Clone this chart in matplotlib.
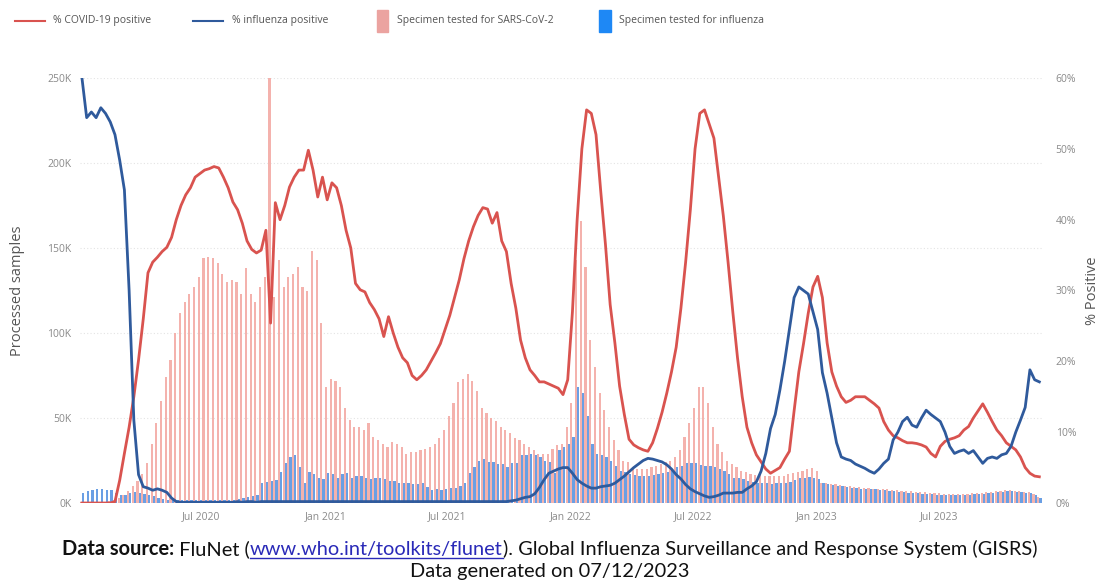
import numpy as np
import pandas as pd
import matplotlib
matplotlib.use("Agg")
import matplotlib.pyplot as plt
from matplotlib.lines import Line2D
from matplotlib.patches import Rectangle

# weekly data, Jan 2020 - Nov 2023
start_week = "2020-01-06"

covid_pct = [
    0, 0, 0, 0, 0, 0, 0, 0.2, 3.2, 7,
    10.7, 15, 20.2, 26, 32.5, 34, 34.7, 35.5, 36.1, 37.5,
    40, 42, 43.5, 44.5, 46, 46.5, 47, 47.2, 47.5, 47.3,
    46, 44.5, 42.5, 41.4, 39.5, 37, 35.8, 35.3, 35.7, 38.5,
    25.4, 42.4, 40, 42, 44.6, 46, 47, 47, 49.8, 47,
    43.2, 46, 42.8, 45.2, 44.5, 42, 38.5, 36, 31, 30.1,
    29.8, 28.3, 27.3, 26, 23.5, 26.3, 24, 22, 20.5, 19.8,
    18, 17.4, 18, 18.8, 20, 21.2, 22.5, 24.5, 26.5, 29,
    31.5, 34.5, 37, 39, 40.6, 41.7, 41.5, 39.5, 41, 37,
    35.5, 31, 27.5, 23, 20.5, 18.8, 18, 17.1, 17.1, 16.8,
    16.5, 16.2, 15.3, 17.4, 27, 40, 50, 55.5, 55, 52,
    44, 36.5, 28, 22.6, 16.5, 12.5, 9, 8.2, 7.8, 7.5,
    7.3, 8.5, 10.5, 12.8, 15.5, 18.5, 22, 27.5, 34, 41.4,
    50, 55, 55.5, 53.5, 51.5, 46, 40.5, 34, 27, 20.5,
    15, 10.7, 8.5, 6.8, 5.8, 4.8, 4.2, 4.6, 5, 6.2,
    7.3, 13, 18.5, 22.5, 26.8, 30.5, 32, 29, 22.6, 18.5,
    16.5, 15, 14.2, 14.5, 15, 15, 15, 14.5, 14, 13.4,
    11.5, 10.3, 9.5, 9.2, 8.8, 8.5, 8.5, 8.4, 8.2, 7.9,
    7, 6.5, 8, 8.7, 9, 9.2, 9.5, 10.3, 10.8, 12,
    13, 14, 12.8, 11.5, 10.3, 9.5, 8.5, 8, 7.5, 6.5,
    5, 4.2, 3.8, 3.7,
]

flu_pct = [
    60, 54.4, 55.2, 54.4, 55.8, 55, 53.8, 52, 48.4, 44.2,
    30, 11.7, 4, 2.3, 2.1, 1.8, 2, 1.8, 1.5, 0.7,
    0.2, 0.1, 0.1, 0.1, 0.1, 0.1, 0.1, 0.1, 0.1, 0.1,
    0.1, 0.1, 0.1, 0.2, 0.1, 0.2, 0.2, 0.1, 0.2, 0.2,
    0.2, 0.2, 0.2, 0.2, 0.2, 0.2, 0.2, 0.2, 0.2, 0.2,
    0.2, 0.2, 0.2, 0.2, 0.2, 0.2, 0.2, 0.2, 0.2, 0.2,
    0.2, 0.2, 0.2, 0.2, 0.2, 0.2, 0.2, 0.2, 0.2, 0.2,
    0.2, 0.2, 0.2, 0.2, 0.2, 0.2, 0.2, 0.2, 0.2, 0.2,
    0.2, 0.2, 0.2, 0.2, 0.2, 0.2, 0.2, 0.2, 0.2, 0.2,
    0.2, 0.3, 0.4, 0.6, 0.8, 0.9, 1.3, 2.2, 3.3, 4.2,
    4.5, 4.8, 5, 5, 4.2, 3.3, 2.8, 2.4, 2.1, 2.1,
    2.3, 2.4, 2.5, 2.8, 3.3, 3.8, 4.4, 5, 5.5, 6,
    6.3, 6.2, 6, 5.8, 5.4, 4.8, 4, 3.4, 2.6, 2,
    1.6, 1.3, 1, 0.8, 0.9, 1.1, 1.4, 1.4, 1.4, 1.5,
    1.5, 2, 2.4, 3, 4.5, 7, 10.5, 12.5, 16, 20,
    24.5, 29, 30.5, 30, 29.5, 27, 24.5, 18.4, 15.5, 12,
    8.5, 6.5, 6.2, 6, 5.5, 5.2, 4.9, 4.5, 4.2, 4.8,
    5.6, 6.2, 8.9, 10, 11.5, 12.1, 11, 10.7, 12, 13.1,
    12.5, 12, 11.5, 10, 8, 7, 7.3, 7.5, 7, 7.4,
    6.5, 5.6, 6.3, 6.5, 6.3, 6.8, 7, 8, 10, 11.7,
    13.5, 18.8, 17.4, 17.1,
]

# processed samples, thousands
sars_k = [
    0.5, 0.5, 0.5, 0.5, 0.5, 0.8, 1, 2, 3, 5,
    7, 10, 13, 17, 23.5, 35, 47, 60, 74, 84,
    100, 112, 118, 123, 127, 133, 144, 145, 144, 141,
    135, 130, 131, 130, 123, 138, 123, 118, 127, 133,
    250, 121, 143, 127, 133, 135, 139, 127, 125, 148,
    143, 106, 68, 73, 72, 68, 56, 49, 45, 45,
    43, 47, 39, 37, 35, 33, 36, 35, 33, 29,
    30, 30, 31, 32, 33, 35, 38, 43, 51, 59,
    71, 73, 76, 72, 66, 56, 53, 50, 48, 45,
    43, 41, 38, 37, 35, 33, 31, 29, 29, 29,
    32, 34, 35, 45, 59, 143, 166, 139, 96, 80,
    65, 55, 45, 37, 31, 25, 24, 21, 20, 20,
    20, 21, 22, 23, 24, 25, 27, 31, 39, 47,
    56, 68, 68, 59, 45, 35, 30, 25, 23, 21,
    19, 18, 17, 16.5, 16.5, 16, 16, 16, 16, 16,
    17, 17.5, 18, 19, 20, 20.5, 19, 12, 11.5, 11,
    11, 10.5, 10, 10, 9.5, 9.5, 9, 9, 8.5, 8.5,
    8, 8, 7.5, 7.5, 7, 7, 7, 6.5, 6.5, 6.5,
    6, 6, 6, 5.5, 5.5, 5.5, 5.5, 5.5, 5.5, 6,
    6, 6, 6.5, 6.5, 7, 7, 7.5, 7.5, 7, 7,
    6.5, 6.5, 5.5, 3.5,
]

flu_k = [
    6, 7, 7.5, 8, 8, 7.5, 7.5, 6, 5, 5,
    6, 6.5, 6, 5.5, 5, 4, 3, 2.5, 2, 2,
    2, 1.5, 1.5, 1.5, 1.5, 1.5, 1.5, 1.5, 1.5, 2,
    2, 2, 2, 2.5, 3, 3.5, 4, 5, 12, 12.5,
    13, 13.5, 18, 23.5, 27, 28, 21, 12, 18, 17,
    15, 14, 17.6, 17, 15, 17, 17.6, 15, 16, 16,
    15, 14, 15, 15, 14, 13, 13, 12, 12, 12,
    11, 11, 12, 9.5, 7.6, 8, 7.6, 8, 9, 9,
    10, 12, 17.6, 21, 25, 26, 24, 24, 23, 23,
    21, 23.5, 23.5, 28, 28, 29, 28, 27, 25, 24,
    17.6, 31, 33, 35, 39, 68, 65, 51, 35, 29,
    28, 27, 25, 22, 19, 18, 17, 16.5, 16, 16,
    16, 16.5, 17, 17.6, 18.5, 19.5, 21, 22, 23.5, 23.5,
    23.5, 22.5, 22, 21.5, 21, 20, 19, 17, 15, 15,
    14, 13, 12.5, 12, 11.5, 11.5, 11, 11.5, 12, 12,
    12.5, 13.5, 14.5, 15, 15.5, 15, 14, 11.5, 11, 10.5,
    10, 10, 9.5, 9, 9, 8.5, 8.5, 8, 8, 7.5,
    7.5, 7, 7, 6.5, 6.5, 6, 6, 6, 5.5, 5.5,
    5.5, 5, 5, 5, 5, 5, 5, 5, 5, 5.5,
    5.5, 5.5, 6, 6, 6.5, 6.5, 7, 7, 6.5, 6.5,
    6, 6, 5, 3,
]

tick_dates = ["2020-07-01", "2021-01-01", "2021-07-01", "2022-01-01",
              "2022-07-01", "2023-01-01", "2023-07-01"]
tick_labels = ["Jul 2020", "Jan 2021", "Jul 2021", "Jan 2022",
               "Jul 2022", "Jan 2023", "Jul 2023"]
left_ticks = [0, 50, 100, 150, 200, 250]
right_ticks = [0, 10, 20, 30, 40, 50, 60]

RED = "#D9534F"
NAVY = "#2F5A9C"
PINK = "#F4B2AD"
BAR_BLUE = "#6A9FE4"
TICK_GREY = "#8a8a8a"

plt.rcParams["font.family"] = ["Open Sans", "DejaVu Sans"]

W, H = 1099, 581
fig = plt.figure(figsize=(W / 100, H / 100), dpi=100)
ax = fig.add_axes([79.6 / W, (H - 503) / H, 962.1 / W, 425 / H])

weeks = pd.date_range(start_week, periods=len(covid_pct), freq="7D")
ax.bar(weeks - pd.Timedelta(days=1.6), sars_k, width=3.2, color=PINK, zorder=2)
ax.bar(weeks + pd.Timedelta(days=1.7), flu_k, width=3.4, color=BAR_BLUE, zorder=3)
ax.set_ylim(0, 250)
ax.set_xlim(weeks[0] - pd.Timedelta(days=3.5), weeks[-1] + pd.Timedelta(days=3.5))
ax.set_yticks(left_ticks)
ax.set_yticklabels([f"{v}K" for v in left_ticks])
ax.set_xticks(pd.to_datetime(tick_dates))
ax.set_xticklabels(tick_labels)
for y in left_ticks[1:]:
    ax.axhline(y, color="#e4e4e4", lw=0.8, ls=(0, (1, 2)), zorder=1)

ax2 = ax.twinx()
ax2.plot(weeks, covid_pct, color=RED, lw=2, zorder=4)
ax2.plot(weeks, flu_pct, color=NAVY, lw=2, zorder=5)
ax2.set_ylim(0, 60)
ax2.set_yticks(right_ticks)
ax2.set_yticklabels([f"{v}%" for v in right_ticks])

for a in (ax, ax2):
    for s in a.spines.values():
        s.set_visible(False)
    a.tick_params(length=0, labelsize=7.5, labelcolor=TICK_GREY)
ax.tick_params(axis="y", pad=6)
ax.tick_params(axis="x", pad=6)
ax2.tick_params(axis="y", pad=10)

fig.text(18 / W, 0.5, "Processed samples", rotation=90, ha="center", va="center",
         fontsize=10.5, color="#555555")
fig.text(1092 / W, 0.5, "% Positive", rotation=90, ha="center", va="center",
         fontsize=10.5, color="#555555")

# legend drawn by hand to match the layout
ly = 1 - 21 / H
fig.add_artist(Line2D([15 / W, 45 / W], [ly, ly], color=RED, lw=1.5))
fig.text(53 / W, ly, "% COVID-19 positive", fontsize=7.5, color="#555555", va="center")
fig.add_artist(Line2D([193 / W, 223 / W], [ly, ly], color=NAVY, lw=1.5))
fig.text(232 / W, ly, "% influenza positive", fontsize=7.5, color="#555555", va="center")
fig.add_artist(Rectangle((377 / W, 1 - 32 / H), 11 / W, 22 / H, color="#EBA3A0",
                         transform=fig.transFigure))
fig.text(397 / W, ly, "Specimen tested for SARS-CoV-2", fontsize=7.5, color="#555555", va="center")
fig.add_artist(Rectangle((599 / W, 1 - 32 / H), 12 / W, 22 / H, color="#1E88F5",
                         transform=fig.transFigure))
fig.text(619 / W, ly, "Specimen tested for influenza", fontsize=7.5, color="#555555", va="center")

# footer with mixed styles
parts = [
    ("Data source:", "bold", "#111111"),
    (" FluNet (", "normal", "#111111"),
    ("www.who.int/toolkits/flunet", "normal", "#2a2ab8"),
    ("). Global Influenza Surveillance and Response System (GISRS)", "normal", "#111111"),
]
y1 = (H - 549) / H
renderer = fig.canvas.get_renderer()
pieces = [fig.text(0, y1, s, fontweight=w, color=c, fontsize=13, family="Lato", va="center")
          for s, w, c in parts]
total = sum(t.get_window_extent(renderer).width for t in pieces)
fs = 13 * 975 / total
for t in pieces:
    t.set_fontsize(fs)
widths = [t.get_window_extent(renderer).width for t in pieces]
x = (W - sum(widths)) / 2
for t, w in zip(pieces, widths):
    t.set_x(x / W)
    if t.get_text().startswith("www"):
        fig.add_artist(Line2D([x / W, (x + w) / W], [y1 - 9 / H, y1 - 9 / H],
                              color="#2a2ab8", lw=1))
    x += w
fig.text(0.5, (H - 572) / H, "Data generated on 07/12/2023", fontsize=fs, family="Lato",
         color="#111111", ha="center", va="center")

fig.savefig("out.png", dpi=100)
